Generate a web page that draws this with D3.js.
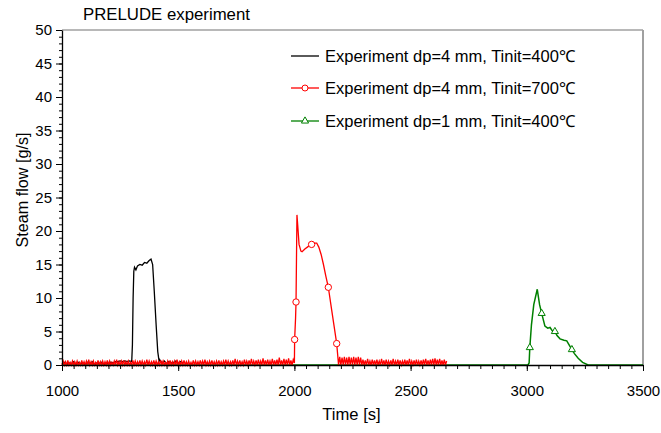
<!DOCTYPE html>
<html>
<head>
<meta charset="utf-8">
<script src="https://cdn.jsdelivr.net/npm/d3@7"></script>
<style>
  body { margin: 0; background: #fff; }
  svg text { font-family: "Liberation Sans", Arial, sans-serif; fill: #000; }
</style>
</head>
<body>
<svg id="chart" width="661" height="433"></svg>
<script>
// ---- data ----
const title = "PRELUDE experiment";
const xTicks = [1000, 1500, 2000, 2500, 3000, 3500];
const yTicks = [0, 5, 10, 15, 20, 25, 30, 35, 40, 45, 50];
const legendLabels = [
  "Experiment dp=4 mm, Tinit=400\u2103",
  "Experiment dp=4 mm, Tinit=700\u2103",
  "Experiment dp=1 mm, Tinit=400\u2103"
];

// black run: baseline noise (1000..1290, every 10 s), pulse, noise (1420..1520, every 10 s)
const blackPreNoise = [0.2,0.4,0.1,0.3,0.2,0.5,0.1,0.4,0.2,0.3,0.1,0.4,0.2,0.5,0.1,0.3,0.2,0.4,0.1,0.3,0.2,0.4,0.3,0.5,0.5,0.6,0.5,0.6,0.5,0.6];
const blackPulseT = [1300,1303,1306,1309,1312,1318,1325,1335,1345,1355,1365,1375,1383,1390,1397,1405,1412,1418];
const blackPulseV = [0.5,3,10,14.0,14.6,14.2,14.8,15.0,14.9,15.3,15.2,15.6,15.8,15.0,11,6,2,0.5];
const blackPostNoise = [0.8,0.3,0.6,0.2,0.5,0.3,0.4,0.6,0.2,0.5,0.3];

// red run: noise 1000..1995 every 5 s, pulse, noise 2190..2655 every 5 s
const redPreNoise = [
  0,0.6,0,0.5,0,0.7,0,0.4,0,0.6, 0,0.5,0,0.6,0,0.4,0,0.7,0,0.5,
  0,0.6,0,0.8,0,0.5,0,0.6,0,0.4, 0,0.7,0,0.5,0,0.6,0,0.5,0,0.7,
  0,0.6,0,0.4,0,0.6,0,0.8,0,0.5, 0,0.6,0,0.7,0,0.5,0,0.6,0,0.4,
  0,0.7,0,0.6,0,0.5,0,0.7,0,0.6, 0,0.5,0,0.8,0,0.6,0,0.5,0,0.7,
  0,0.6,0,0.5,0,0.7,0,0.6,0,0.4, 0,0.6,0,0.7,0,0.5,0,0.6,0,0.8,
  0,0.5,0,0.6,0,0.7,0,0.5,0,0.6, 0,0.4,0,0.7,0,0.6,0,0.5,0,0.7,
  0,0.6,0,0.8,0,0.5,0,0.6,0,0.7, 0,0.5,0,0.6,0,0.7,0,0.5,0,0.6,
  0,0.8,0,0.6,0,0.5,0,0.7,0,0.9, 0,0.6,0,0.7,0,0.5,0,0.8,0,0.6,
  0,0.7,0,0.9,0,0.6,0,0.7,0,0.8, 0,0.6,0,1.0,0,0.7,0,0.8,0,0.6,
  0,0.9,0,0.7,0,0.8,0,1.1,0,0.7, 0,0.9,0,0.8,0,1.0,0,0.7,0,0.8
];
const redPulseT = [2000,2001,2005,2007,2009,2011,2014,2020,2028,2033,2045,2060,2074,2085,2096,2105,2115,2125,2135,2146,2160,2170,2182,2188];
const redPulseV = [0.3,3.8,7.0,9.4,16.0,22.4,21.0,18.0,17.0,16.9,17.3,17.7,18.0,18.2,18.2,17.6,16.5,15.0,13.3,11.6,8.3,6.0,3.2,0.8];
const redPostNoise = [
  0,1.2,0,1.1,0,1.2,0,1.1,0,1.2, 0,1.1,0,1.2,0,1.1,0,1.2,0,1.1,
  0,0.8,0,0.7,0,0.9,0,0.6,0,0.8, 0,0.7,0,0.8,0,0.6,0,0.9,0,0.7,
  0,0.8,0,0.6,0,0.7,0,0.9,0,0.6, 0,0.8,0,0.7,0,0.6,0,0.8,0,0.7,
  0,0.9,0,0.6,0,0.7,0,0.8,0,0.6, 0,0.7,0,0.8,0,0.9,0,0.7,0,0.8,
  0,0.9,0,1.0,0,0.8,0,0.9,0,0.7, 0,0.8,0,0.6
];
const redMarkT = [2001, 2007, 2074, 2146, 2182];
const redMarkV = [3.8, 9.4, 18.0, 11.6, 3.2];

// green run
const greenT = [1000,3005,3010,3013,3020,3030,3045,3055,3064,3078,3090,3100,3110,3121,3130,3143,3160,3172,3182,3194,3205,3221,3240,3264,3500];
const greenV = [0,0,0.3,2.6,6.0,9.0,11.3,9.0,7.7,5.8,5.5,5.6,5.1,5.0,4.4,3.9,3.7,3.6,3.0,2.3,1.7,1.0,0.4,0,0];
const greenMarkT = [3013, 3064, 3121, 3194];
const greenMarkV = [2.6, 7.7, 5.0, 2.3];

// ---- build series ----
const noise = (start, step, vals) => vals.map((v, i) => [start + i * step, v]);
const zip = (ts, vs) => ts.map((t, i) => [t, vs[i]]);

const blackData = noise(1000, 10, blackPreNoise)
  .concat(zip(blackPulseT, blackPulseV))
  .concat(noise(1420, 10, blackPostNoise));
const redData = noise(1000, 5, redPreNoise)
  .concat(zip(redPulseT, redPulseV))
  .concat(noise(2190, 5, redPostNoise));
const greenData = zip(greenT, greenV);

// ---- layout ----
const svg = d3.select("#chart");
const plotL = 62, plotR = 643, plotT = 30, plotB = 365;

const x = d3.scaleLinear().domain([1000, 3500]).range([plotL, plotR]);
const y = d3.scaleLinear().domain([0, 50]).range([plotB, plotT]);

const line = d3.line().x(d => x(d[0])).y(d => y(d[1]));

// frame: grey top/right
svg.append("line").attr("x1", plotL).attr("x2", plotR).attr("y1", plotT).attr("y2", plotT)
  .attr("stroke", "#a0a0a0").attr("stroke-width", 1.5);
svg.append("line").attr("x1", plotR).attr("x2", plotR).attr("y1", plotT).attr("y2", plotB)
  .attr("stroke", "#a0a0a0").attr("stroke-width", 2);

// series
svg.append("path").datum(greenData).attr("d", line)
  .attr("fill", "none").attr("stroke", "#008000").attr("stroke-width", 1.5);
svg.append("path").datum(blackData).attr("d", line)
  .attr("fill", "none").attr("stroke", "#000").attr("stroke-width", 1.3);
svg.append("path").datum(redData).attr("d", line)
  .attr("fill", "none").attr("stroke", "#ff0000").attr("stroke-width", 1.3);

// markers
svg.append("g").selectAll("circle")
  .data(zip(redMarkT, redMarkV))
  .join("circle")
  .attr("cx", d => x(d[0])).attr("cy", d => y(d[1])).attr("r", 3.2)
  .attr("fill", "#fff").attr("stroke", "#ff0000").attr("stroke-width", 1);

const tri = d3.symbol().type(d3.symbolTriangle).size(22);
svg.append("g").selectAll("path")
  .data(zip(greenMarkT, greenMarkV))
  .join("path")
  .attr("d", tri)
  .attr("transform", d => "translate(" + x(d[0]) + "," + y(d[1]) + ")")
  .attr("fill", "#fff").attr("stroke", "#008000").attr("stroke-width", 1);

// axes
const xAxis = svg.append("g").attr("transform", "translate(0," + plotB + ")");
xAxis.call(d3.axisBottom(x).tickValues(d3.range(1000, 3501, 50)).tickFormat("").tickSize(4).tickSizeOuter(0));
xAxis.call(g => g.select(".domain").attr("stroke", "#000").attr("stroke-width", 1.3));
xAxis.append("g").call(d3.axisBottom(x).tickValues(xTicks).tickFormat(d3.format("d")).tickSize(6).tickSizeOuter(0))
  .call(g => g.select(".domain").remove())
  .call(g => g.selectAll("text").attr("font-size", 15).attr("y", 31).attr("dy", 0)
    .attr("font-family", "Liberation Sans, Arial, sans-serif").attr("fill", "#000"));

const yAxis = svg.append("g").attr("transform", "translate(" + plotL + ",0)");
yAxis.call(d3.axisLeft(y).tickValues(d3.range(0, 51, 1)).tickFormat("").tickSize(3).tickSizeOuter(0));
yAxis.call(g => g.select(".domain").attr("stroke", "#000").attr("stroke-width", 1.3));
yAxis.append("g").call(d3.axisLeft(y).tickValues(yTicks).tickSize(6).tickSizeOuter(0))
  .call(g => g.select(".domain").remove())
  .call(g => g.selectAll("text").attr("font-size", 15).attr("x", -10)
    .attr("font-family", "Liberation Sans, Arial, sans-serif").attr("fill", "#000"));

// labels
svg.append("text").attr("x", 83).attr("y", 20).attr("font-size", 16.8).text(title);
svg.append("text").attr("x", 351.5).attr("y", 420).attr("text-anchor", "middle")
  .attr("font-size", 16.6).text("Time [s]");
svg.append("text").attr("transform", "translate(28,190) rotate(-90)")
  .attr("text-anchor", "middle").attr("font-size", 16.2).text("Steam flow [g/s]");

// legend
const legendColors = ["#000", "#ff0000", "#008000"];
const legendRows = [56, 88, 121];
const lg = svg.append("g");
legendLabels.forEach((lab, i) => {
  lg.append("line").attr("x1", 291).attr("x2", 319).attr("y1", legendRows[i]).attr("y2", legendRows[i])
    .attr("stroke", legendColors[i]).attr("stroke-width", 1.3);
  if (i === 1) {
    lg.append("circle").attr("cx", 305).attr("cy", legendRows[i]).attr("r", 3)
      .attr("fill", "#fff").attr("stroke", "#ff0000");
  }
  if (i === 2) {
    lg.append("path").attr("d", tri).attr("transform", "translate(305," + legendRows[i] + ")")
      .attr("fill", "#fff").attr("stroke", "#008000");
  }
  lg.append("text").attr("x", 325).attr("y", legendRows[i] + 6).attr("font-size", 16.5).text(lab);
});
</script>
</body>
</html>
